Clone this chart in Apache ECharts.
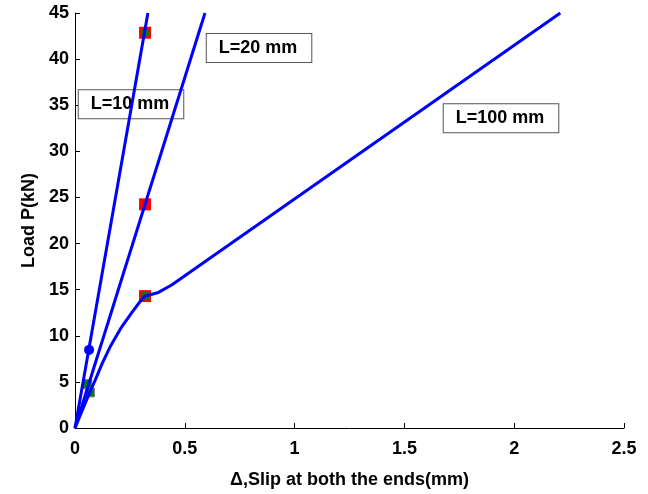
<!DOCTYPE html>
<html>
<head>
<meta charset="utf-8">
<script src="https://cdn.jsdelivr.net/npm/echarts@6/dist/echarts.min.js"></script>
<style>
html,body{margin:0;padding:0;background:#fff;}
#c{width:648px;height:494px;}
</style>
</head>
<body>
<div id="c"></div>
<script>
// Data
var xTicks = [0, 0.5, 1, 1.5, 2, 2.5];
var yTicks = [0, 5, 10, 15, 20, 25, 30, 35, 40, 45];

var lineL10 = [[0, 0], [0.332, 45]];
var lineL20 = [[0, 0], [0.592, 45]];
var lineL100 = [[0, 0], [0.033, 1.9], [0.068, 3.9], [0.094, 5.3], [0.124, 7.0], [0.162, 8.9], [0.208, 10.8], [0.261, 12.6], [0.299, 13.8], [0.319, 14.3], [0.35, 14.5], [0.38, 14.7], [0.44, 15.5], [2.21, 45]];

var blueCircles = [[0.064, 8.47]];
var greenSquaresLow = [[0.056, 4.76], [0.068, 3.86]];
var redSquares = [[0.319, 42.86], [0.319, 24.25], [0.319, 14.3]];
var greenCircles = [[0.319, 42.86]];
var greenSquaresInner = [[0.319, 14.3]];

var labelTexts = ['L=10 mm', 'L=20 mm', 'L=100 mm'];
var labelPos = [[0.255, 35.1], [0.838, 41.2], [1.94, 33.6]];

var xName = '\u0394,Slip at both the ends(mm)';
var yName = 'Load P(kN)';

var FONT = '"Liberation Sans", Arial, sans-serif';
var chart = echarts.init(document.getElementById('c'));

var labelData = labelTexts.map(function (t, i) { return { value: labelPos[i], name: t }; });

chart.setOption({
  animation: false,
  backgroundColor: '#fff',
  grid: { left: 75, right: 24, top: 13, bottom: 65, containLabel: false },
  xAxis: {
    type: 'value', min: 0, max: 2.5, interval: 0.5,
    name: xName, nameLocation: 'middle', nameGap: 43,
    nameTextStyle: { fontFamily: FONT, fontWeight: 'bold', fontSize: 18, color: '#000' },
    axisLine: { show: true, lineStyle: { color: '#000', width: 1 } },
    axisTick: { show: true, inside: true, length: 5, lineStyle: { color: '#000' } },
    axisLabel: { fontFamily: FONT, fontWeight: 'bold', fontSize: 18, color: '#000', margin: 12,
      formatter: function (v) { return String(v); } },
    splitLine: { show: false }
  },
  yAxis: {
    type: 'value', min: 0, max: 45, interval: 5,
    name: yName, nameLocation: 'middle', nameGap: 36, nameRotate: 90,
    nameTextStyle: { fontFamily: FONT, fontWeight: 'bold', fontSize: 18, color: '#000' },
    axisLine: { show: true, lineStyle: { color: '#000', width: 1 } },
    axisTick: { show: true, inside: true, length: 5, lineStyle: { color: '#000' } },
    axisLabel: { fontFamily: FONT, fontWeight: 'bold', fontSize: 18, color: '#000', margin: 6 },
    splitLine: { show: false }
  },
  series: [
    { type: 'scatter', data: labelData, symbolSize: 0, silent: true, z: 1, itemStyle: { opacity: 1 },
      label: { show: true, position: 'inside', formatter: '{b}', fontFamily: FONT, fontWeight: 'bold',
        fontSize: 18, color: '#000', opacity: 1, backgroundColor: '#fff', borderColor: '#555', borderWidth: 1,
        padding: [5, 14, 5, 12] } },
    { type: 'scatter', data: greenSquaresLow, symbol: 'rect', symbolSize: 9, z: 2,
      itemStyle: { color: '#008000', borderColor: '#808080', borderWidth: 1, opacity: 1 }, silent: true },
    { type: 'scatter', data: redSquares, symbol: 'rect', symbolSize: 12, z: 2,
      itemStyle: { color: '#ff0000', opacity: 1 }, silent: true },
    { type: 'scatter', data: greenCircles, symbol: 'circle', symbolSize: 8, z: 2,
      itemStyle: { color: '#008000', opacity: 1 }, silent: true },
    { type: 'scatter', data: greenSquaresInner, symbol: 'rect', symbolSize: 8, z: 2,
      itemStyle: { color: '#008000', opacity: 1 }, silent: true },
    { type: 'line', data: lineL10, showSymbol: false, z: 3, lineStyle: { color: '#0000ff', width: 3 } },
    { type: 'line', data: lineL20, showSymbol: false, z: 3, lineStyle: { color: '#0000ff', width: 3 } },
    { type: 'line', data: lineL100, showSymbol: false, smooth: false, z: 3,
      lineStyle: { color: '#0000ff', width: 3, join: 'round' } },
    { type: 'scatter', data: blueCircles, symbol: 'circle', symbolSize: 10, z: 4,
      itemStyle: { color: '#0000ff', opacity: 1 }, silent: true }
  ]
});
</script>
</body>
</html>
